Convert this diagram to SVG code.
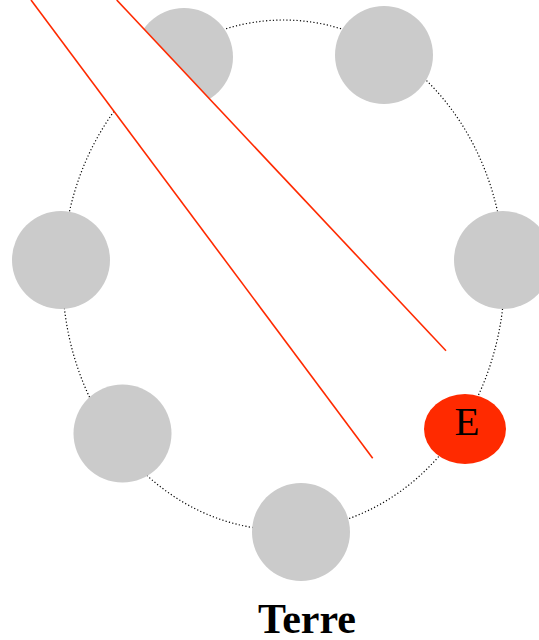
<svg xmlns="http://www.w3.org/2000/svg" width="539" height="640" viewBox="0 0 539 640">
<style>
.orbit{fill:none;stroke:#000;stroke-width:1.2;stroke-dasharray:1.2,2.2}
.planet{fill:#cbcbcb}
.ray{stroke:#ff2a00;stroke-width:1.6;fill:none}
.lbl{font-family:"Liberation Serif",serif;fill:#000}
</style>
<rect width="539" height="640" fill="#fff"/>
<g id="orbit"><ellipse class="orbit" cx="283.5" cy="275" rx="221" ry="255"/></g>
<g id="p1"><circle class="planet" cx="184" cy="57" r="49"/></g>
<g id="p2"><circle class="planet" cx="384" cy="55" r="49"/></g>
<g id="p3"><circle class="planet" cx="503" cy="260" r="49"/></g>
<g id="p4"><circle class="planet" cx="61" cy="260" r="49"/></g>
<g id="p5"><circle class="planet" cx="122.5" cy="433.5" r="49"/></g>
<g id="p6"><circle class="planet" cx="301" cy="532" r="49"/></g>
<g id="E"><ellipse cx="465" cy="429" rx="41" ry="35" fill="#ff2a00"/><text class="lbl" x="467" y="434.5" font-size="41" text-anchor="middle">E</text></g>
<g id="connectors">
<polygon points="31,0 116.7,0 446,350.7 372.7,458.3" fill="#fff"/>
<line class="ray" x1="31" y1="0" x2="372.7" y2="458.3"/>
<line class="ray" x1="116.7" y1="0" x2="446" y2="350.7"/>
</g>
<g id="title"><text class="lbl" x="307" y="632.5" font-size="42" font-weight="bold" text-anchor="middle">Terre</text></g>
</svg>
